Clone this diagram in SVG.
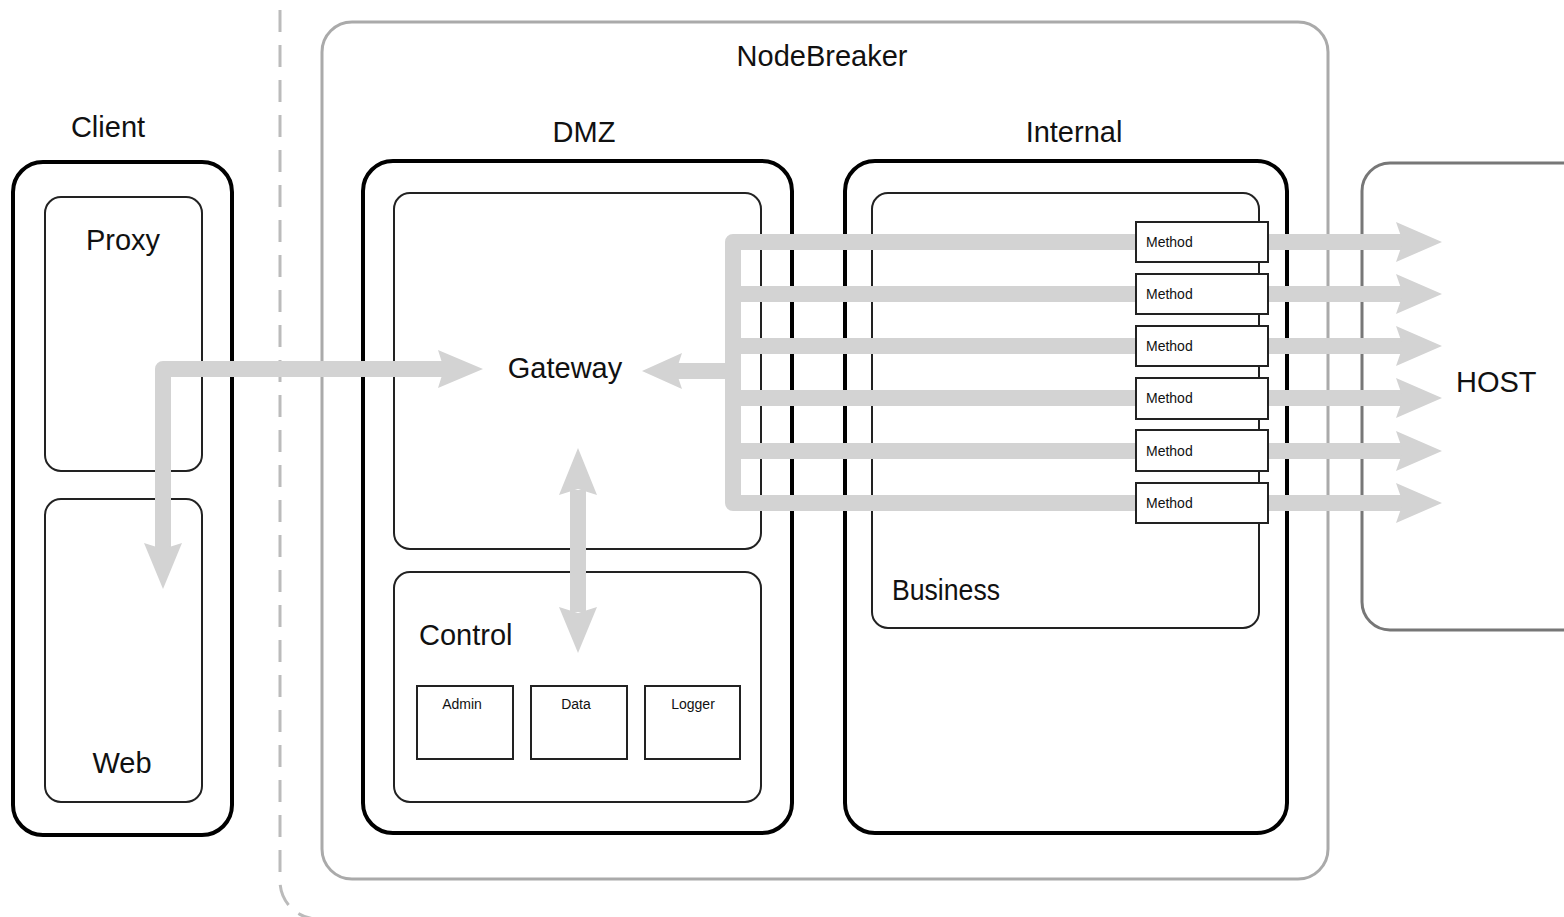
<svg xmlns="http://www.w3.org/2000/svg" width="1564" height="917" viewBox="0 0 1564 917">
<style>
text{font-family:"Liberation Sans",Arial,sans-serif;fill:#111}
.big{font-size:29px}
.small{font-size:14px}
.outer{fill:none;stroke:#000;stroke-width:4}
.inner{fill:none;stroke:#222;stroke-width:2}
.sq{fill:#fff;stroke:#222;stroke-width:2}
.band{fill:none;stroke:#d3d3d3;stroke-width:16;stroke-linejoin:round}
.head{fill:#d3d3d3}
</style>
<rect width="1564" height="917" fill="#fff"/>
<g id="boundary">
<path d="M280 10 V881 A38 38 0 0 0 318 919 H700" fill="none" stroke="#bbb" stroke-width="3" stroke-dasharray="22 13"/>
</g>
<g id="nodebreaker">
<rect x="322" y="22" width="1006" height="857" rx="30" fill="none" stroke="#aaa" stroke-width="3"/>
<text class="big" x="822" y="66" text-anchor="middle">NodeBreaker</text>
</g>
<g id="client">
<rect class="outer" x="13" y="162" width="219" height="673" rx="30"/>
<text class="big" x="108" y="137" text-anchor="middle">Client</text>
</g>
<g id="proxy">
<rect class="inner" x="45" y="197" width="157" height="274" rx="16"/>
<text class="big" x="123" y="250" text-anchor="middle">Proxy</text>
</g>
<g id="web">
<rect class="inner" x="45" y="499" width="157" height="303" rx="16"/>
<text class="big" x="122" y="773" text-anchor="middle">Web</text>
</g>
<g id="dmz">
<rect class="outer" x="363" y="161" width="429" height="672" rx="30"/>
<text class="big" x="584" y="142" text-anchor="middle">DMZ</text>
</g>
<g id="gateway">
<rect class="inner" x="394" y="193" width="367" height="356" rx="16"/>
<text class="big" x="565" y="378" text-anchor="middle">Gateway</text>
</g>
<g id="control">
<rect class="inner" x="394" y="572" width="367" height="230" rx="16"/>
<text class="big" x="419" y="645">Control</text>
</g>
<g id="admin">
<rect class="sq" x="417" y="686" width="96" height="73"/>
<text class="small" x="462" y="709" text-anchor="middle">Admin</text>
</g>
<g id="data">
<rect class="sq" x="531" y="686" width="96" height="73"/>
<text class="small" x="576" y="709" text-anchor="middle">Data</text>
</g>
<g id="logger">
<rect class="sq" x="645" y="686" width="95" height="73"/>
<text class="small" x="693" y="709" text-anchor="middle">Logger</text>
</g>
<g id="internal">
<rect class="outer" x="845" y="161" width="442" height="672" rx="30"/>
<text class="big" x="1074" y="142" text-anchor="middle">Internal</text>
</g>
<g id="business">
<rect class="inner" x="872" y="193" width="387" height="435" rx="16"/>
<text class="big" x="892" y="600" textLength="108" lengthAdjust="spacingAndGlyphs">Business</text>
</g>
<g id="host">
<rect x="1362" y="163" width="260" height="467" rx="28" fill="none" stroke="#777" stroke-width="3"/>
<text class="big" x="1456" y="392">HOST</text>
</g>
<g id="connectors">
<path class="band" d="M445 369 H163 V550"/>
<polygon class="head" points="483,369 438,350 444,369 438,388"/>
<polygon class="head" points="163,589 144,543 163,549 182,543"/>
<path class="band" d="M578 490 V612"/>
<polygon class="head" points="578,448 559,495 578,489 597,495"/>
<polygon class="head" points="578,653 559,607 578,613 597,607"/>
<path class="band" d="M1404 242 H733 V503 H1404"/>
<path class="band" d="M733 294 H1404 M733 346 H1404 M733 398 H1404 M733 451 H1404"/>
<path class="band" d="M733 371 H676"/>
<polygon class="head" points="642,371 682,353 676,371 682,389"/>
<polygon class="head" points="1442,242 1396,222 1403,242 1396,262"/>
<polygon class="head" points="1442,294 1396,274 1403,294 1396,314"/>
<polygon class="head" points="1442,346 1396,326 1403,346 1396,366"/>
<polygon class="head" points="1442,398 1396,378 1403,398 1396,418"/>
<polygon class="head" points="1442,451 1396,431 1403,451 1396,471"/>
<polygon class="head" points="1442,503 1396,483 1403,503 1396,523"/>
</g>
<g id="methods">
<g id="method1"><rect class="sq" x="1136" y="222" width="132" height="40"/><text class="small" x="1146" y="247">Method</text></g>
<g id="method2"><rect class="sq" x="1136" y="274" width="132" height="40"/><text class="small" x="1146" y="299">Method</text></g>
<g id="method3"><rect class="sq" x="1136" y="326" width="132" height="40"/><text class="small" x="1146" y="351">Method</text></g>
<g id="method4"><rect class="sq" x="1136" y="378" width="132" height="41"/><text class="small" x="1146" y="403">Method</text></g>
<g id="method5"><rect class="sq" x="1136" y="430" width="132" height="41"/><text class="small" x="1146" y="456">Method</text></g>
<g id="method6"><rect class="sq" x="1136" y="483" width="132" height="40"/><text class="small" x="1146" y="508">Method</text></g>
</g>
</svg>
